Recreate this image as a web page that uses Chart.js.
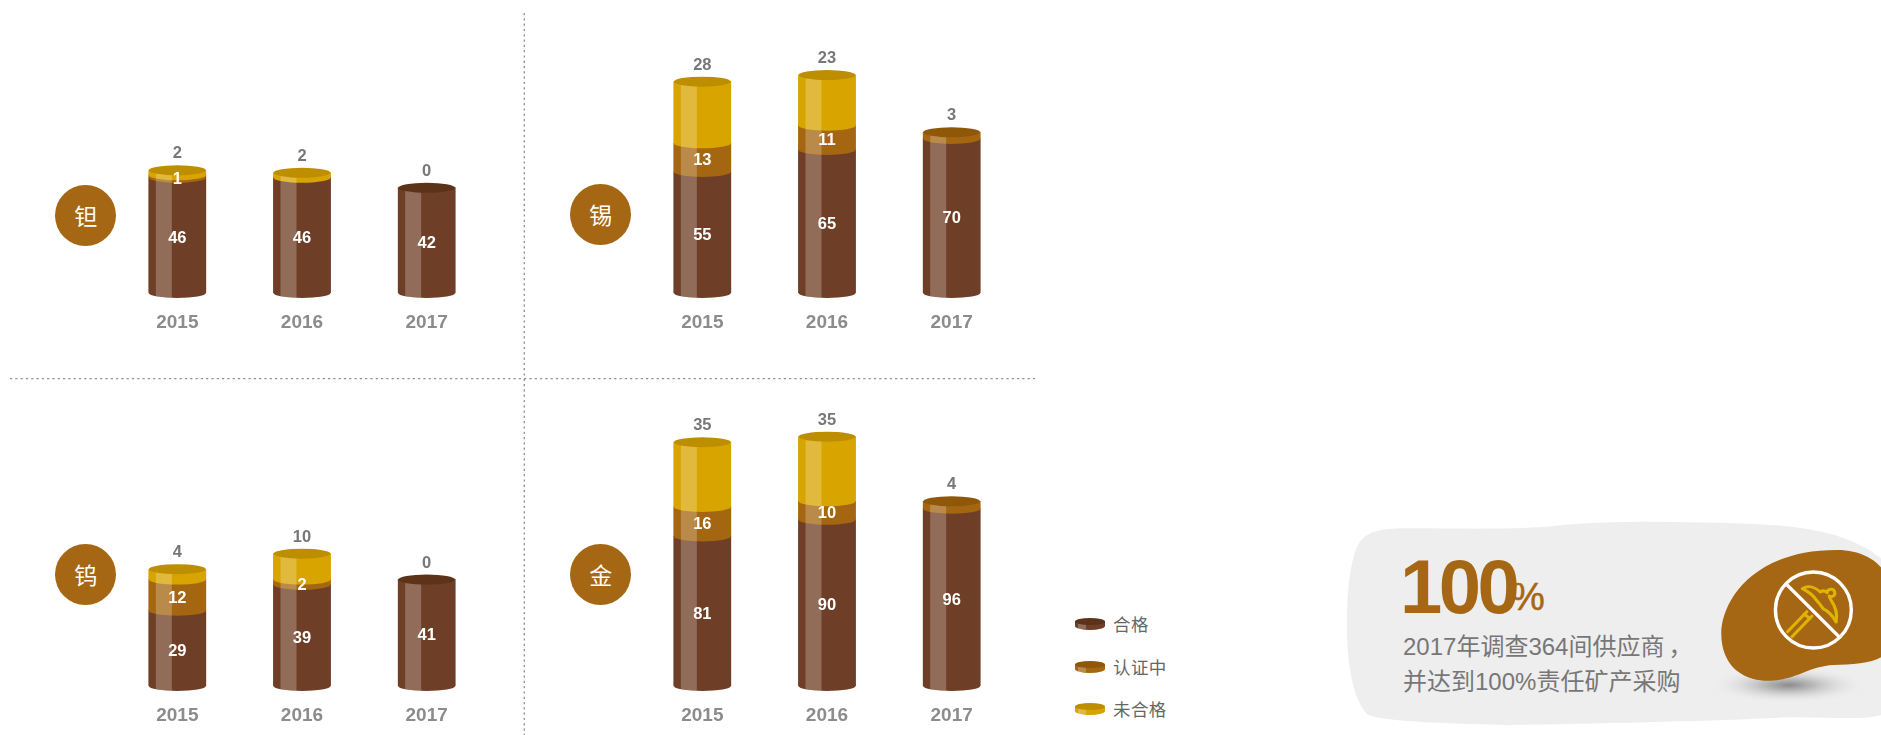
<!DOCTYPE html>
<html lang="zh">
<head>
<meta charset="utf-8">
<title>矿产供应商调查</title>
<script src="https://cdn.jsdelivr.net/npm/chart.js@4"></script>
<style>
html,body{margin:0;padding:0;background:#fff;}
body{width:1881px;height:735px;position:relative;overflow:hidden;font-family:"Liberation Sans","Noto Sans CJK SC",sans-serif;}
canvas.panel{position:absolute;}
svg.layer{position:absolute;left:0;top:0;}
.badge{position:absolute;width:61px;height:61px;border-radius:50%;background:#a56713;color:#fff;text-align:center;font:400 23px/61px "Noto Sans CJK SC",sans-serif;}
.leg{position:absolute;left:1113px;color:#666;font:400 17.5px/22px "Noto Sans CJK SC",sans-serif;letter-spacing:.4px;white-space:nowrap;}
.t{position:absolute;white-space:nowrap;}
</style>
</head>
<body>
<svg class="layer" width="1881" height="735">
  <line x1="524.3" y1="13" x2="524.3" y2="735" stroke="#8f8f8f" stroke-width="1.3" stroke-dasharray="2.2 3.1"/>
  <line x1="10" y1="378.6" x2="1037" y2="378.6" stroke="#8f8f8f" stroke-width="1.3" stroke-dasharray="2.2 3.1"/>
</svg>

<svg class="layer" style="left:1340px;top:510px" width="541" height="225" viewBox="0 0 1568 675" preserveAspectRatio="none">
  <defs>
    <radialGradient id="shade" cx="50%" cy="50%" r="50%">
      <stop offset="0%" stop-color="#8c8c8c"/>
      <stop offset="40%" stop-color="#c6c6c6"/>
      <stop offset="100%" stop-color="#eeeeee" stop-opacity="0"/>
    </radialGradient>
  </defs>
  <path fill="#eeeeee" d="M20 340 C20 220 35 125 60 92 C85 60 130 55 200 55 C350 55 500 60 620 48 C780 30 1000 35 1200 42 C1350 48 1480 70 1568 145 L1568 615 C1520 632 1400 620 1300 622 C1100 632 800 640 500 645 C300 642 100 632 78 612 C40 570 20 470 20 340 Z"/>
  <ellipse cx="1300" cy="525" rx="230" ry="55" fill="url(#shade)"/>
  <path fill="#a56713" d="M1105 370 C1105 280 1190 120 1440 120 C1510 120 1550 150 1568 172 L1568 442 C1540 460 1480 465 1430 465 C1350 470 1320 515 1230 512 C1170 510 1105 470 1105 370 Z"/>
  <g fill="none" stroke="#e0b500" stroke-width="9" stroke-linejoin="round" stroke-linecap="round">
    <path d="M1340 236 C1358 224 1378 232 1392 246 C1400 240 1408 244 1412 248 C1412 236 1432 232 1434 248 C1436 258 1424 262 1418 258 C1418 262 1422 268 1424 272 C1436 290 1442 312 1438 336 C1428 318 1416 304 1400 296 C1396 290 1390 280 1382 272 C1372 256 1356 244 1340 236 Z"/>
    <path d="M1297 365 L1353 305 M1310 380 L1368 318 M1345 312 L1362 326"/>
  </g>
  <ellipse cx="1372" cy="300" rx="110" ry="114" fill="none" stroke="#fff" stroke-width="10"/>
  <line x1="1295" y1="224" x2="1446" y2="380" stroke="#fff" stroke-width="10"/>
</svg>

<div id="badges"></div>
<div id="legend"></div>

<canvas class="panel" id="c0"></canvas>
<canvas class="panel" id="c1"></canvas>
<canvas class="panel" id="c2"></canvas>
<canvas class="panel" id="c3"></canvas>

<div class="t" style="left:1400px;top:543px;font:700 76px/88px 'Liberation Sans';letter-spacing:-3.5px;color:#a56713;">100</div>
<div class="t" style="left:1511px;top:575px;font:400 38px/44px 'Liberation Sans';color:#a56713;-webkit-text-stroke:.5px #a56713;">%</div>
<div class="t" style="left:1403px;top:630px;font:400 24px/34px 'Liberation Sans','Noto Sans CJK SC';color:#777;">2017年调查364间供应商<span style="margin-left:4px">，</span></div>
<div class="t" style="left:1403px;top:665px;font:400 24px/34px 'Liberation Sans','Noto Sans CJK SC';color:#777;">并达到100%责任矿产采购</div>

<script>
// Categories and series names
const years = ["2015", "2016", "2017"];
const seriesNames = ["合格", "认证中", "未合格"];
const metals = ["钽", "锡", "钨", "金"];

// Values printed on the picture (null = segment not shown)
const taPassed = [46, 46, 42];
const taPending = [1, null, null];
const taFailed = [2, 2, 0];

const snPassed = [55, 65, 70];
const snPending = [13, 11, 3];
const snFailed = [28, 23, null];

const wPassed = [29, 39, 41];
const wPending = [12, 2, null];
const wFailed = [4, 10, 0];

const auPassed = [81, 90, 96];
const auPending = [16, 10, 4];
const auFailed = [35, 35, null];

// Upper limits of each panel's hidden value axis
const axisMax = [109, 124, 116, 163];

const bodyColors = ["#6e3f26", "#a46611", "#d7a400"];
const capColors = ["#5c3318", "#8e5808", "#bd8f00"];

const panels = [
  {data: [taPassed, taPending, taFailed], left: 115, top: 20, h: 318, badge: [85.7, 215]},
  {data: [snPassed, snPending, snFailed], left: 640, top: 20, h: 318, badge: [600.7, 214.5]},
  {data: [wPassed, wPending, wFailed], left: 115, top: 385, h: 346, badge: [85.7, 574]},
  {data: [auPassed, auPending, auFailed], left: 640, top: 385, h: 346, badge: [600.7, 574]}
];

// Turns each stacked bar into a cylinder, using the positions the bar elements got from the scales.
const RY = 5;
const cylinderPlugin = {
  id: "cylinder",
  afterDatasetsDraw(chart) {
    const ctx = chart.ctx;
    const metas = chart.getSortedVisibleDatasetMetas().sort((a, b) => a.index - b.index);
    const n = chart.data.labels.length;
    for (let i = 0; i < n; i++) {
      let topIdx = 0, topShown = 0;
      metas.forEach((m, d) => {
        const v = chart.data.datasets[d].data[i];
        if (v !== null && v !== undefined) { topIdx = d; if (v > 0) topShown = d; }
      });
      metas.forEach((m, d) => {
        const v = chart.data.datasets[d].data[i];
        if (!v) return;
        const el = m.data[i];
        const w = el.width, x0 = el.x - w / 2;
        const yT = el.y, yB = el.base;
        ctx.save();
        ctx.beginPath();
        ctx.moveTo(x0, yT);
        ctx.lineTo(x0 + w, yT);
        ctx.lineTo(x0 + w, yB);
        ctx.ellipse(el.x, yB, w / 2, RY, 0, 0, Math.PI);
        ctx.closePath();
        ctx.fillStyle = bodyColors[d];
        ctx.fill();
        ctx.clip();
        ctx.fillStyle = "rgba(255,255,255,0.24)";
        ctx.fillRect(x0 + 7, yT, 16, yB - yT + RY + 1);
        ctx.restore();
      });
      const el = metas[topShown].data[i];
      ctx.beginPath();
      ctx.ellipse(el.x, el.y, el.width / 2, RY, 0, 0, Math.PI * 2);
      ctx.fillStyle = capColors[topShown];
      ctx.fill();
      ctx.textAlign = "center";
      ctx.textBaseline = "middle";
      ctx.font = "700 16.5px 'Liberation Sans'";
      metas.forEach((m, d) => {
        const v = chart.data.datasets[d].data[i];
        if (v === null || v === undefined || d === topIdx) return;
        const e = m.data[i];
        ctx.fillStyle = "#fff";
        ctx.fillText(String(v), e.x, (e.y + e.base) / 2 + 3);
      });
      ctx.fillStyle = "#777";
      ctx.fillText(String(chart.data.datasets[topIdx].data[i]), el.x, el.y - 16.5);
    }
  }
};

panels.forEach((p, k) => {
  const cv = document.getElementById("c" + k);
  cv.width = 374; cv.height = p.h;
  cv.style.left = p.left + "px"; cv.style.top = p.top + "px";
  new Chart(cv, {
    type: "bar",
    plugins: [cylinderPlugin],
    data: {
      labels: years,
      datasets: p.data.map((vals, d) => ({
        label: seriesNames[d], data: vals, backgroundColor: bodyColors[d], barThickness: 57, borderWidth: 0
      }))
    },
    options: {
      responsive: false,
      animation: false,
      devicePixelRatio: 1,
      layout: {padding: 0},
      plugins: {legend: {display: false}, tooltip: {enabled: false}, title: {display: false}},
      scales: {
        x: {
          stacked: true,
          afterFit: s => { s.height = 45; },
          grid: {display: false, drawTicks: false},
          border: {display: false},
          ticks: {color: "#8c8c8c", padding: 18, font: {family: "'Liberation Sans'", size: 19, weight: "700"}}
        },
        y: {stacked: true, display: false, min: 0, max: axisMax[k]}
      }
    }
  });
  const b = document.createElement("div");
  b.className = "badge";
  b.textContent = metals[k];
  b.style.left = (p.badge[0] - 30.5) + "px";
  b.style.top = (p.badge[1] - 30.5) + "px";
  document.getElementById("badges").appendChild(b);
});

// Legend
const legendY = [624, 667, 709];
seriesNames.forEach((name, d) => {
  const host = document.getElementById("legend");
  const y = legendY[d];
  const ns = "http://www.w3.org/2000/svg";
  const s = document.createElementNS(ns, "svg");
  s.setAttribute("class", "layer");
  s.setAttribute("width", 32); s.setAttribute("height", 16);
  s.style.left = "1074px"; s.style.top = (y - 8) + "px";
  s.innerHTML =
    `<path d="M1 5 L31 5 L31 10 A15 4 0 0 1 1 10 Z" fill="${bodyColors[d]}"/>` +
    `<path d="M4 5 L12 5 L12 13.6 L4 13 Z" fill="rgba(255,255,255,.24)"/>` +
    `<ellipse cx="16" cy="5.5" rx="15" ry="3.6" fill="${capColors[d]}"/>`;
  host.appendChild(s);
  const t = document.createElement("div");
  t.className = "leg";
  t.textContent = name;
  t.style.top = (y - 11) + "px";
  host.appendChild(t);
});
</script>
</body>
</html>
